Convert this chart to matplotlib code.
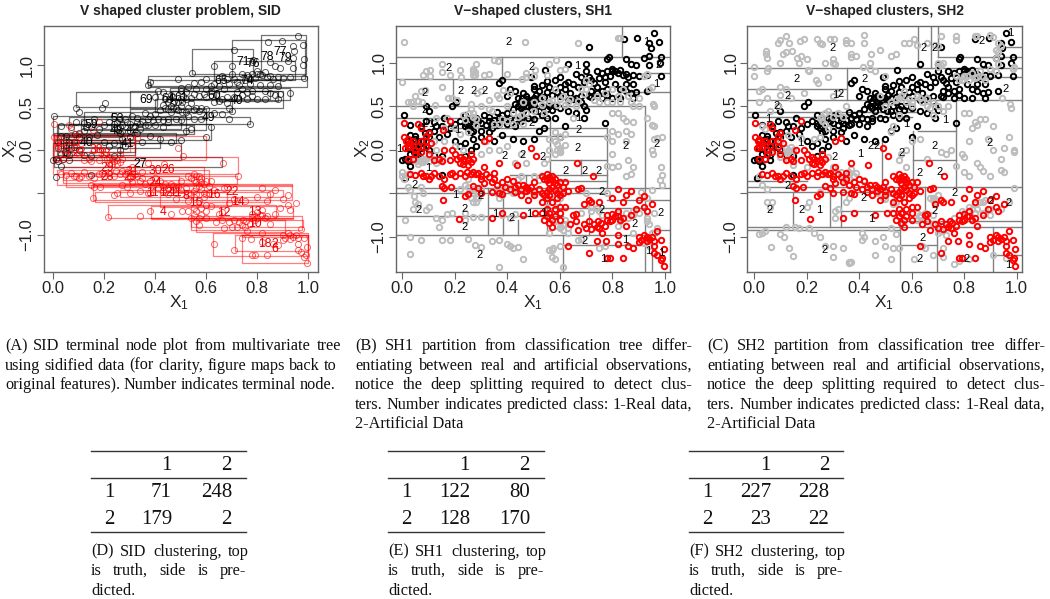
import matplotlib
matplotlib.use("Agg")
import matplotlib.pyplot as plt
from matplotlib.transforms import IdentityTransform

W, H = 1050, 599
plt.rcParams['font.family'] = 'Liberation Sans'
plt.rcParams['mathtext.default'] = 'regular'

black_pts = [(.96,1.34),(.895,1.28),(.843,1.27),(.978,1.24),(.94,1.22),(.945,1.17),(.71,1.18),(.985,1.07),(.94,1.08),(.98,1.0),(.94,.97),(.785,1.06),(.78,1.04),(.63,.99),(.70,.99),(.545,.91),(.70,.90),(.85,1.04),(.87,.99),(.89,.97),(.92,1.05),(.985,.85),(.93,.86),(.90,.85),(.85,.87),(.83,.92),(.80,.93),(.81,.90),(.78,.90),(.76,.88),(.74,.90),(.79,.85),(.77,.84),(.72,.80),(.68,.84),(.66,.87),(.63,.78),(.60,.83),(.58,.80),(.55,.79),(.49,.84),(.38,.80),(.37,.77),(.50,.73),(.50,.70),(.52,.68),(.55,.66),(.57,.63),(.60,.62),(.62,.70),(.64,.65),(.66,.60),(.68,.55),(.70,.46),(.69,.50),(.72,.61),(.74,.65),(.76,.60),(.78,.63),(.80,.60),(.83,.60),(.88,.60),(.87,.65),(.93,.67),(.89,.66),(.85,.67),
(.40,.62),(.44,.60),(.45,.56),(.47,.55),(.48,.50),(.50,.52),(.52,.45),(.46,.45),(.44,.50),(.42,.47),(.40,.42),(.38,.40),(.36,.43),(.33,.38),(.31,.40),(.30,.31),(.28,.37),(.26,.36),(.24,.40),(.22,.33),(.20,.30),(.19,.50),(.205,.55),(.09,.50),(.10,.45),(.09,.33),(.12,.32),(.15,.27),(.16,.37),(.005,.40),(.03,.28),(.07,.27),(.085,.19),(.10,.20),(.05,.16),(.06,.10),(.08,.03),(.02,.10),(.05,.06),(.05,.02),(.055,-.04),(.06,-.06),(.01,-.10),(.00,-.12),(.02,-.13),(.03,-.19),(.01,-.32),(.045,-.02),(.15,-.29),(.15,-.07),
(.77,.31),(.69,.37),(.62,.27),(.60,.15),(.54,.25),(.52,.22),(.50,.12),(.46,.10),(.42,.13),(.38,.17),(.35,.10),(.33,.20),(.30,.15),(.27,.13),(.25,.25),(.24,.27),(.30,.22),(.34,.25),(.37,.30),(.40,.30),(.43,.27),(.45,.33),(.48,.37),(.50,.35),(.53,.40),(.55,.37),(.58,.36),(.66,.42),(.63,.44),(.60,.48),(.56,.50),(.54,.55),(.50,.60),(.46,.65),(.43,.68),(.41,.70),
(.455,.60),(.47,.62),(.475,.58),(.49,.57),(.505,.57),(.46,.52),(.47,.5),(.49,.47),(.505,.45),(.43,.53),(.45,.48),(.53,.5),(.55,.47),(.57,.46),(.58,.5),(.52,.6),(.54,.61),(.51,.63),
(.33,.33),(.35,.34),(.37,.36),(.39,.35),(.41,.37),(.43,.35),(.45,.37),(.36,.29),(.34,.31),(.29,.33),(.27,.3),(.26,.27),(.25,.33),(.24,.31),(.26,.2),(.27,.22),(.32,.28),
(.8,.9),(.82,.88),(.84,.86),(.86,.83),(.88,.86),(.77,.78),(.75,.82),(.73,.77),(.71,.84),(.69,.78),(.67,.72),(.65,.75),(.62,.75),(.6,.72),(.59,.66),(.56,.72),(.53,.74),(.83,.7),(.85,.76),(.88,.75),(.81,.76),(.78,.7),(.76,.68),(.74,.72),(.72,.68),(.71,.62),(.68,.62),(.65,.58),(.63,.57),
(.02,.02),(.03,-.05),(.04,-.1),(.06,-.12),(.07,.02),(.05,.12),(.03,.17),(.08,.1),(.1,.15),(.1,.0),(.12,.22),(.13,.27),(.14,.15),(.17,.18),(.2,.1),(.22,.05),(.24,.08),(.24,-.07),(.26,.0),(.28,.05),(.12,-.06),(.18,.25)]
black_x = [p[0] for p in black_pts]
black_y = [p[1] for p in black_pts]

red_pts = [(.005,.31),(.06,.30),(.07,.25),(.18,.33),(.155,.23),(.10,.19),(.09,.16),(.005,.15),(.015,.10),(.02,.05),(.01,.02),(.03,.03),(.06,.05),(.07,-.03),(.09,.03),(.11,.08),(.16,.0),(.19,.0),(.18,-.12),(.22,-.08),(.23,-.10),(.24,-.13),(.25,-.12),(.26,-.14),(.26,-.05),(.05,-.29),(.03,-.28),(.09,-.30),(.10,-.33),(.12,-.26),(.14,-.30),(.18,-.28),(.20,-.30),(.22,-.27),(.245,-.25),(.26,-.28),(.28,-.28),(.31,-.20),(.33,-.31),(.35,-.26),(.37,-.15),(.30,-.33),(.31,-.38),(.27,-.41),(.29,-.44),(.35,-.33),(.38,-.37),(.40,-.33),(.42,-.36),(.44,-.40),(.46,-.40),(.47,-.47),(.50,-.37),(.52,-.45),(.53,-.30),(.55,-.28),(.56,-.31),(.57,-.34),(.58,-.38),(.59,-.40),(.60,-.37),(.61,-.42),(.62,-.37),(.49,.02),(.51,-.07),(.435,-.17),(.33,.14),(.31,.10),(.665,-.15),(.725,-.30),(.15,-.41),(.16,-.44),(.155,-.57),(.185,-.43),(.24,-.53),(.25,-.51),(.30,-.50),(.34,-.48),(.37,-.50),(.38,-.51),(.43,-.48),(.45,-.52),(.48,-.58),(.50,-.52),(.53,-.60),(.55,-.55),(.56,-.52),(.57,-.60),(.59,-.55),(.61,-.50),(.63,-.47),(.67,-.45),(.68,-.44),(.69,-.62),(.72,-.60),(.75,-.60),(.71,-.58),(.60,-.72),(.54,-.80),(.55,-.76),(.56,-.84),(.57,-.88),(.58,-.76),(.53,-.72),(.62,-.66),(.65,-.75),(.66,-.82),(.67,-.92),(.70,-.90),(.72,-.91),(.74,-.88),(.745,-.82),(.755,-.84),(.78,-.80),(.80,-.73),(.82,-.76),(.83,-.80),(.85,-.87),(.80,-.55),(.76,-.95),(.74,-1.04),(.775,-1.05),(.82,-1.08),(.82,-.98),(.86,-1.10),(.88,-1.12),(.91,-1.03),(.92,-.98),(.94,-1.02),(.95,-1.0),(.96,-1.04),(.985,-1.03),(.995,-1.14),(.96,-1.18),(.97,-1.20),(.985,-1.26),(.99,-1.24),(.995,-1.33),(.78,-1.24),(.79,-1.24),(.84,-1.24),(.71,-1.18),(.63,-1.10),(.505,-.72),(.46,-.75),(.38,-.72),(.34,-.78),(.215,-.79),(.89,-.68),(.93,-.70),(.92,-.53),(.97,-.93),(.87,-.47),(.82,-.45),(.84,-.60),
(.02,.13),(.03,.08),(.04,.1),(.05,.0),(.07,.1),(.09,.1),(.05,-.05),(.04,-.1),(.02,-.1),(.1,-.05),(.12,-.12),(.14,-.1),(.15,-.13),(.2,-.05),(.21,-.1),(.23,-.16),(.25,-.17),(.27,-.1),(.22,-.15),(.08,-.3),(.07,-.27),(.11,-.3),(.16,-.33),(.19,-.27),(.24,-.3),(.27,-.25),(.29,-.26),(.3,-.3),(.32,-.28),(.34,-.37),(.36,-.4),(.39,-.42),(.41,-.45),(.43,-.43),(.45,-.45),(.47,-.42),(.48,-.45),(.49,-.43),(.5,-.47),(.53,-.5),(.54,-.52),(.55,-.48),(.56,-.45),(.57,-.42),(.58,-.46),(.59,-.5),(.6,-.52),(.57,-.3),(.55,-.35),(.56,-.38),(.58,-.33),(.54,-.33),(.55,-.68),(.56,-.72),(.57,-.8),(.6,-.8),(.64,-.85),(.66,-.73),(.69,-.85),(.71,-.82),(.73,-.85),(.77,-.87),(.79,-.82),(.8,-.8),(.81,-.76),(.82,-.7),(.84,-.78),(.87,-.75),(.75,-.9),(.78,-.75),(.6,-.65),(.58,-.68),(.85,-.52),(.9,-.58),(.92,-.65),(.95,-.62),(.9,-1.06),(.93,-1.05),(.96,-1.1),(.93,-1.0),(.9,-1.0)]
red_x = [p[0] for p in red_pts]
red_y = [p[1] for p in red_pts]

gray1_pts = [(.008,1.24),(.467,1.24),(.667,1.23),(.82,1.28),(.83,1.28),(0,.78),(.105,.91),(.09,.90),(.08,.86),(.105,.85),(.15,.89),(.18,.86),(.15,.985),(.22,.91),(.225,.84),(.27,.90),(.275,.86),(.28,.99),(.31,.86),(.33,.87),(.35,1.03),(.365,1.02),(.40,.87),(.47,.84),(.455,.81),(.50,.85),(.56,.99),(.585,1.03),(.505,.92),(.47,.88),(.07,.68),(.085,.69),(.05,.62),(.02,.55),(.035,.55),(.06,.56),(.075,.55),(.04,.5),(.125,.515),(.15,.72),(.175,.60),(.19,.60),(.21,.57),(.23,.40),(.24,.34),(.26,.53),(.283,.65),(.30,.67),(.33,.57),(.36,.63),(.385,.69),(.37,.59),(.41,.65),(.40,.50),(.42,.42),
(.95,.72),(.955,.53),(.96,.50),(.94,.70),(.93,.36),(.95,.28),(.96,.27),(.96,.13),(.99,.15),(.97,.14),(.955,-.05),(.95,.0),(.88,.32),(.85,.33),(.84,.36),(.82,.42),(.80,.42),(.85,.22),(.87,.18),(.80,.22),(.82,.18),(.78,.15),(.80,.1),(.85,.1),(.80,-.05),(.86,-.12),(.88,-.2),(.85,-.3),(.87,-.28),(.80,-.2),(.82,-.19),(.78,-.19),(.985,-.2),(.99,-.29),(.98,-.35),(.99,-.4),(.95,-.46),(.91,-.48),(.93,-.55),(.96,-.72),(.93,-.82),(.97,-.9),(.88,-.75),(.85,-.72),(.83,-.82),(.82,-.87),(.88,-.95),
(.60,.15),(.62,.18),(.58,.2),(.59,.07),(.62,.06),(.60,0),(.56,.0),(.60,-.03),(.55,-.1),(.54,-.15),(.47,-.15),(.43,-.15),(.45,-.05),(.37,.0),(.40,.05),(.33,.0),(.30,-.05),(.27,-.28),(.25,-.33),(.28,-.55),(.27,-.6),(.26,-.55),(.24,-.4),(.22,-.45),(.36,-.45),(.37,-.55),(.38,-.52),(.42,-.5),(.50,-.5),(.55,-.6),(.58,-.55),(.59,-.48),(.60,-.45),(.58,-.8),(.60,-.88),(.62,-.85),(.61,-.92),(.63,-.95),(.56,-.95),(.68,-.72),(.72,-.7),(.72,-.6),(.75,-.7),(.76,-.75),(.78,-.5),(.70,-.5),(.67,-1.03),(.68,-1.02),(.77,-1.1),(.75,-1.12),
(.03,-1.0),(.07,-1.03),(.03,-1.19),(.15,-1.03),(.18,-1.03),(.25,-1.02),(.275,-1.09),(.3,-1.11),(.34,-1.04),(.37,-1.03),(.40,-1.08),(.41,-1.10),(.42,-1.13),(.44,-1.11),(.46,-1.25),(.37,-1.34),(.56,-1.15),(.575,-1.13),(.57,-1.15),(.61,-1.34),(.57,-1.23),(.58,-1.25),(.60,-1.1),
(.0,-.3),(.005,-.33),(.02,-.42),(.03,-.46),(.045,-.53),(.05,-.6),(.06,-.62),(.04,-.68),(.01,-.80),(.10,-.66),(.09,-.69),(.07,-.42),(.08,-.5),(.13,-.78),(.14,-.88),(.15,-.8),(.17,-.73),(.19,-.72),(.24,-.8),(.24,-.72),(.27,-.77),(.30,-.77),(.38,-.75),(.43,-.73),(.41,-.78),
(.05,-.12),(.06,-.13),(.07,-.12),(.08,-.14),(.09,-.11),(.10,-.06),(.12,-.1),(.15,-.1),(.02,-.28),(.0,-.25),(.12,.1),(.13,.0),(.16,.25),(.17,.37),(.13,.37),(.16,.10),(.2,.25),(.23,.0),(.25,.2),(.27,.42),(.28,.35),(.32,.1),(.35,.3),(.38,.35),(.42,.3),(.45,.4),(.46,.55),(.50,.45),(.54,.42),(.57,.57),(.59,.52),(.61,.62),(.62,.52),(.65,.36),(.66,.5),(.68,.7),(.69,.64),(.70,.8),(.73,.57),(.75,.55),(.78,.55),(.80,.7),(.82,.62),(.86,.62),(.87,.55),(.92,.85),(.93,.87),(.90,.60),(.60,.91),(.62,.93),(.55,.86),(.58,.70),
(.27,.86),(.27,.93),(.275,.89),(.34,.45),(.26,.47),(.255,.42),(.27,.38),(.3,.5),(.33,.47),(.28,.28),(.22,.18),(.2,.05),(.13,-.12),(.1,-.13),(.07,-.14),(.06,-.16),(.13,-.15),(.08,-.1),(.6,-.03),(.6,.02),(.59,.0),(.58,-.05),(.56,.12),(.58,.1),(.56,.55),(.53,.52),(.5,.55),(.47,.42),(.53,.6),(.6,.58),(.63,.55),(.64,.58),(.67,.56),(.71,.75),(.7,.7),(.74,.62),(.77,.65),(.8,.55),(.84,.7),(.83,.55),(.88,.5),(.9,.5),(.25,-.42),(.27,-.45),(.27,-.5),(.28,-.47),(.29,-.55),(.28,-.6),(.3,-.45),(.36,-.5),(.37,-.45),(.4,-.42),(.42,-.42),(.46,-.47),(.44,-.33),(.45,-.3),(.5,-.3),(.52,-.35),(.59,-.6),(.6,-.55),(.6,-.48),(.56,-.72),(.62,-.8),(.61,-.85),(.6,-.9),(.59,-.87),(.63,-.9),(.72,-.65),(.74,-.67),(.82,-.72),(.83,-.78),(.86,-.78),(.88,-.7),(.9,-.72),(.93,-.78),(.94,-.85),(.95,-.95),(.92,-1.07),(.94,-1.1),(.37,.3),(.4,.33),(.44,.38),(.46,.3)]
gray1_x = [p[0] for p in gray1_pts]
gray1_y = [p[1] for p in gray1_pts]

gray2_pts = [(.09,1.22),(.10,1.26),(.12,1.3),(.135,1.22),(.175,1.25),(.19,1.27),(.24,1.27),(.25,1.23),(.26,1.21),(.29,1.27),(.305,1.27),(.35,1.26),(.35,1.22),(.42,1.32),(.42,1.22),(.37,1.22),(.61,1.27),(.59,1.22),(.57,1.23),(.62,1.2),(.66,1.22),(.69,1.2),(.70,1.19),(.71,1.3),(.77,1.26),(.77,1.3),(.84,1.31),(.85,1.3),(.90,1.32),(.91,1.29),(.93,1.22),(.94,1.19),(.045,1.13),(.045,1.1),(.05,1.05),(.12,1.12),(.11,1.1),(.145,1.13),(.165,1.05),(.18,1.08),(.17,1.0),(.20,1.04),(.10,1.0),(.0,.95),(.0,.85),(.05,.9),(.055,.94),(.205,.92),(.21,.9),(.27,1.0),(.30,1.04),(.3,1.0),(.31,.98),(.37,1.1),(.37,1.07),(.39,1.08),(.445,1.1),(.48,1.15),(.52,1.08),(.54,1.1),(.44,1.0),(.44,.93),(.415,.95),(.245,.77),(.235,.8),(.28,.83),(.03,.7),(.02,.67),(.10,.72),(.12,.70),(.10,.63),(.14,.6),(.19,.65),(.05,.6),(.02,.55),(.06,.44),(.09,.5),
(.945,.6),(.975,.53),(.98,.48),(.985,.93),(.99,.95),(.88,.35),(.86,.35),(.84,.32),(.85,.28),(.83,.25),(.82,.1),(.80,.42),(.82,.42),(.91,.27),(.89,.12),(.91,.0),(.95,.02),(.97,.15),(.99,.0),(.99,-.03),(.94,-.1),(.85,-.15),(.86,-.2),(.87,-.24),(.9,-.3),(.94,-.23),(.95,-.25),(.99,-.44),(.97,-.6),(.80,-.08),(.79,-.05),(.75,.0),(.77,-.18),(.82,-.3),(.80,-.25),(.73,-.05),(.71,-.03),(.66,-.1),(.63,.12),(.60,.1),(.58,.0),(.56,-.05),(.55,-.12),(.58,-.2),
(.02,-.3),(.03,-.4),(.05,-.45),(.07,-.6),(.05,-.6),(.06,-.65),(.03,-.95),(.02,-.97),(.04,-.93),(.10,-.97),(.115,-1.0),(.12,-.88),(.155,-.88),(.17,-.9),(.21,-.9),(.23,-.95),(.25,-1.0),(.27,-1.1),(.30,-1.1),(.34,-1.12),(.37,-1.28),(.36,-1.29),(.30,-1.23),(.135,-1.13),(.15,-1.22),(.065,-1.11),(.2,-.65),(.21,-.6),(.25,-.48),(.31,-.7),(.32,-.68),(.31,-.78),(.41,-.95),(.41,-1.03),(.42,-1.0),(.46,-1.05),(.46,-1.2),(.52,-1.25),(.50,-1.1),(.49,-1.0),(.52,-.9),(.54,-.97),(.53,-1.13),(.55,-1.13),(.61,-1.25),(.64,-1.1),(.65,-1.13),(.68,-1.2),(.72,-1.13),(.72,-1.23),(.76,-1.31),(.78,-1.27),(.82,-1.25),(.91,-1.2),(.96,-1.24),(.73,-.98),(.70,-.95),(.72,-.92),(.68,-.85),(.62,-.8),(.63,-.75),(.65,-.8),(.78,-.75),(.80,-.72),(.84,-.72),(.85,-.68),(.87,-.6),(.90,-.75),(.94,-.68),(.68,-.55),(.68,-.58),(.70,-.52),(.35,-.6),(.36,-.55),
(.13,.0),(.12,-.03),(.14,.03),(.10,.1),(.13,.17),(.03,.27),(.04,.24),(.15,-.17),(.18,.14),(.28,-.08),(.3,-.2),(.33,-.25),(.36,-.25),(.38,-.3),(.44,-.4),(.47,-.5),(.49,-.55),(.50,-.56),(.52,-.5),(.27,.42),(.28,.45),(.3,.62),(.32,.65),(.35,.5),(.25,.37),(.26,.38),(.52,.2),(.53,.27),(.57,.68),(.55,.6),(.58,.55),(.6,.5),(.63,.6),(.66,.5),(.67,.48),(.68,.4),(.72,.45),(.74,.5),(.78,.8),(.8,.85),(.82,.8),(.84,.82),(.86,.9),(.88,.8),(.92,.9),(.93,.98),(.7,.95),(.72,1.0),(.55,.4),(.48,.62),
(.26,.33),(.27,.3),(.3,.38),(.32,.42),(.34,.38),(.28,.25),(.25,.15),(.23,.12),(.14,-.05),(.13,-.03),(.15,.0),(.12,.02),(.05,.0),(.06,-.03),(.1,-.08),(.09,.05),(.13,-.1),(.2,-.2),(.27,-.28),(.3,-.26),(.35,-.3),(.37,-.22),(.39,-.27),(.34,-.35),(.36,-.33),(.42,-.35),(.45,-.45),(.46,-.45),(.48,-.45),(.5,-.5),(.54,-.6),(.53,-.62),(.58,-.5),(.6,-.45),(.67,-.55),(.69,-.56),(.69,-.6),(.62,-.72),(.63,-.77),(.65,-.72),(.68,-.75),(.7,-.85),(.71,-.93),(.74,-.87),(.76,-.78),(.79,-.7),(.82,-.65),(.84,-.62),(.86,-.6),(.88,-.58),(.83,-.68),(.87,-.72),(.9,-.68),(.5,.5),(.52,.55),(.54,.57),(.56,.62),(.59,.58),(.6,.55),(.62,.62),(.64,.55),(.66,.6),(.68,.55),(.7,.5),(.77,.85),(.79,.8),(.81,.85),(.83,.88),(.85,.83),(.87,.84),(.9,.93),(.92,1.05),(.93,1.12),(.92,1.15),(.7,1.0),(.71,.97),(.46,.9),(.5,.85),(.36,-1.3),(.365,-1.28)]
gray2_x = [p[0] for p in gray2_pts]
gray2_y = [p[1] for p in gray2_pts]

# terminal node boxes: x0, x1, y0, y1
black_boxes = [(.815,.99,.90,1.35),(.70,.987,.84,1.29),(.545,.785,.90,1.19),(.63,.948,.82,1.05),(.373,.993,.74,.87),(.38,.89,.75,.82),(.09,.405,.51,.68),(.30,.90,.50,.70),(.457,.93,.59,.73),(.64,.88,.58,.69),(.12,.60,.24,.45),(.06,.77,.31,.39),(.0,.52,.18,.40),(.015,.62,.12,.31),(.005,.48,.08,.2),(.015,.32,-.06,.18),(.04,.26,-.08,.12),(.0,.50,-.12,.08),(.005,.66,-.2,-.08),
(.03,.42,.02,.17),(.05,.27,.04,.15),(.05,.32,-.02,.1),(.02,.55,.19,.3),(.11,.5,.25,.36),(.3,.6,.36,.48),(.4,.7,.45,.6),(.46,.85,.6,.7)]
red_boxes = [(.0,.60,-.12,.16),(.005,.32,-.08,.18),(.0,.725,-.08,-.28),(.04,.59,-.2,-.39),(.013,.61,-.24,-.41),(.05,.495,-.31,-.43),(.157,.935,-.41,-.59),(.163,.85,-.49,-.61),(.26,.90,-.47,-.55),(.42,.68,-.49,-.67),(.215,.875,-.65,-.80),(.385,.94,-.66,-.80),(.54,.975,-.78,-.94),(.56,.91,-.82,-.96),(.627,1.0,-.98,-1.25),(.712,1.0,-1.0,-1.19),(.74,1.0,-1.0,-1.33),(.74,1.0,-1.0,-1.02),
(.157,.935,-.405,-.42),(.385,.94,-.8,-.81),(.02,.3,-.02,.12),(.04,.55,-.27,-.35),(.3,.72,-.3,-.4),(.54,.98,-.82,-.9)]

black_node_labels = [("71",.745,1.04),("76",.782,1.01),("78",.84,1.09),("77",.89,1.15),("79",.91,1.08),("69",.365,.59),("59",.15,.29),("74",.76,.81),("65",.66,.81),("61",.50,.61),("60",.63,.63),("40",.72,.58),("49",.61,.38),("42",.31,.24),("48",.25,.22),("40",.13,.08),("41",.29,.07),("27",.34,-.17),("53",.25,.36),("64",.45,.6)]
red_node_labels = [("4",.43,-.73),("12",.67,-.74),("13",.79,-.73),("10",.79,-.87),("18",.83,-1.11),("6",.87,-1.16),("2",.87,-1.1),("22",.70,-.49),("14",.725,-.61),("16",.63,-.53),("30",.40,-.25),("26",.45,-.24),("24",.40,-.39),("11",.39,-.51),("12",.44,-.51),("11",.48,-.51),("8",.52,-.54),("15",.56,-.62),("28",.21,-.32),("29",.21,-.21),("31",.31,-.26),("25",.30,-.32),("23",.10,-.03),("38",.17,.0),("33",.2,-.05)]

sh1_labels = [("2",.404,1.24),("2",.175,.935),("2",.223,.67),("2",.273,.67),("2",.312,.67),("2",.086,.65),("2",.086,.46),("2",.086,.3),("2",.492,.955),("1",.664,.96),("2",.975,.97),("1",.93,1.24),("1",.968,.76),("2",.848,.05),("2",.968,.065),("2",.667,.02),("2",.62,-.24),("2",.695,-.24),("2",.746,-.24),("2",.534,-.08),("2",.39,-.07),("2",.458,-.06),("2",.492,.31),("2",.67,.23),("1",.67,.36),("2",.293,-1.2),("2",.238,-.88),("2",.238,-.68),("2",.061,-.69),("1",.353,-.74),("2",.416,-.78),("1",.483,-.74),("1",.537,-.72),("2",.695,-1.04),("1",.848,-1.03),("1",.765,-1.25),("1",.937,-1.16),("1",.987,-1.18),("2",.886,-.85),("2",.983,-.72),("2",.759,-.69),("2",.759,-.48),("1",.2,-.52),("2",.298,-.53),("2",.048,-.4),("1",-.01,.01),("1",.1,-.21),("1",.11,.3),("1",.21,.23)]
sh2_labels = [("2",.30,1.17),("2",.162,.81),("2",.127,.62),("2",.33,.64),("1",.31,.63),("2",.42,.81),("2",.086,.5),("2",.06,-.69),("2",.18,-.69),("1",.25,-.69),("1",.448,-.79),("2",.267,-1.15),("2",.642,-1.01),("2",.632,-1.25),("2",.689,-.7),("2",.765,-.5),("2",.632,-.26),("2",.708,-.25),("2",.689,.05),("2",.896,.08),("2",.956,.7),("1",.975,1.34),("2",.867,1.25),("2",.647,1.17),("2",.689,1.17),("1",.581,.3),("1",.727,.34),("1",.404,-.05),("2",.442,.04),("2",.467,.04),("2",.562,-.04),("2",.81,-1.25),("1",.968,-1.32),("2",.127,-.41),("2",.306,-.08),("1",.175,.08),("1",.055,.35),("2",.416,-.55),("2",.97,-.61),("2",.9,-.59)]

# partition segments: horizontal (y, x0, x1), vertical (x, y0, y1)
sh1_h = [(1.06,-.03,1.03),(.81,-.03,.46),(.88,.92,1.03),(.66,.82,1.03),(.5,-.03,.92),(.36,-.03,.56),(.25,.18,.78),(.16,.36,.78),(-.115,.56,.78),(-.29,.41,.78),(-.36,.56,.78),(-.44,-.03,1.03),(-.5,-.03,.78),(-.57,.78,1.03),(-.67,.33,.92),(-.76,-.03,.61),(-.92,.97,1.03),(-.98,-.03,.97),(-1.09,.61,.92)]
sh1_v = [(.835,1.06,1.42),(.378,.81,1.06),(.194,.5,.81),(.778,-.44,.25),(.924,-1.4,.5),(.952,-1.4,-.92),(.613,-1.4,-.98),(.562,-.29,.36),(.327,-.98,-.44),(.385,-.98,-.44),(.44,-.98,-.8),(.55,-.98,-.5),(.71,-.98,-.67),(.68,-.29,-.115),(.47,-.44,-.29)]
sh2_h = [(.935,-.03,1.03),(.695,-.03,.353),(.57,-.03,1.03),(.43,-.03,.62),(.38,-.03,.6),(.83,.78,1.03),(1.18,.95,1.03),(1.07,.7,1.03),(.22,.626,.77),(-.12,.607,.77),(-.42,-.03,1.03),(-.48,-.03,.607),(-.36,-.03,.2),(-.7,.33,.55),(-.82,.556,1.03),(-.88,-.03,1.03),(-.92,-.03,.556),(-1.09,.556,.695),(-1.2,.91,1.03)]
sh2_v = [(.626,.935,1.42),(.674,.935,1.42),(.70,1.07,1.42),(.353,.57,.935),(.556,-1.4,-.82),(.91,-1.4,-.88),(.695,-1.4,-.88),(.77,-.42,.57),(.607,-.42,.22),(.486,-.42,.12),(.15,-.88,-.48),(.29,-.88,-.48),(.33,-.88,-.48),(.65,-.82,-.42)]

caption_a = ["(A) SID terminal node plot from multivariate tree",
             "using sidified data (for clarity, figure maps back to",
             "original features). Number indicates terminal node."]
caption_b = ["(B) SH1 partition from classification tree differ-",
             "entiating between real and artificial observations,",
             "notice the deep splitting required to detect clus-",
             "ters. Number indicates predicted class: 1-Real data,",
             "2-Artificial Data"]
caption_c = ["(C) SH2 partition from classification tree differ-",
             "entiating between real and artificial observations,",
             "notice the deep splitting required to detect clus-",
             "ters. Number indicates predicted class: 1-Real data,",
             "2-Artificial Data"]
table_d = [["1", "71", "248"], ["2", "179", "2"]]
table_e = [["1", "122", "80"], ["2", "128", "170"]]
table_f = [["1", "227", "228"], ["2", "23", "22"]]
table_head = ["1", "2"]
note_d = ["(D) SID clustering, top", "is truth, side is pre-", "dicted."]
note_e = ["(E) SH1 clustering, top", "is truth, side is pre-", "dicted."]
note_f = ["(F) SH2 clustering, top", "is truth, side is pre-", "dicted."]

fig = plt.figure(figsize=(10.5, 5.99), dpi=100)
renderer = fig.canvas.get_renderer()
FRAME = '#666666'
TICKTXT = '#222222'


def make_axes(box, xlim, ylim, title, xlabel_x):
    x0, x1, y0, y1 = box
    ax = fig.add_axes([x0 / W, 1 - y1 / H, (x1 - x0) / W, (y1 - y0) / H])
    ax.set_xlim(*xlim)
    ax.set_ylim(*ylim)
    ax.set_xticks([0, .2, .4, .6, .8, 1.0], ["0.0", "0.2", "0.4", "0.6", "0.8", "1.0"])
    ax.set_yticks([-1, -.5, 0, .5, 1], ["\u22121.0", "", "0.0", "0.5", "1.0"])
    ax.tick_params(axis='both', length=5, width=.8, color=FRAME, labelsize=12, labelcolor=TICKTXT)
    ax.tick_params(axis='x', pad=1.5)
    ax.tick_params(axis='y', pad=1.5)
    for t in ax.get_yticklabels():
        t.set_rotation(90)
        t.set_va('center')
    for s in ax.spines.values():
        s.set_color(FRAME)
        s.set_linewidth(1.0)
    fig.text((x0 + x1) / 2 / W, 1 - 11 / H, title, ha='center', va='center', fontsize=10,
             fontweight='bold', color='#222222')
    fig.text(xlabel_x / W, 1 - 303 / H, "X$_1$", ha='center', va='center', fontsize=12.5, color=TICKTXT)
    fig.text((x0 - 33) / W, 1 - 148 / H, "X$_2$", ha='center', va='center', rotation=90, fontsize=12.5, color=TICKTXT)
    return ax


# Panel A
ax = make_axes((43.5, 318, 26, 272), (-.038, 1.038), (-1.435, 1.459), "V shaped cluster problem, SID", 179)
for bx in black_boxes:
    ax.plot([bx[0], bx[1], bx[1], bx[0], bx[0]], [bx[2], bx[2], bx[3], bx[3], bx[2]], color='#000000', alpha=.55, lw=.9)
for bx in red_boxes:
    ax.plot([bx[0], bx[1], bx[1], bx[0], bx[0]], [bx[2], bx[2], bx[3], bx[3], bx[2]], color='#ff0000', alpha=.5, lw=.9)
ax.plot(black_x, black_y, 'o', mfc='none', mec='#000000', mew=.7, ms=4.4, alpha=.65)
ax.plot(red_x, red_y, 'o', mfc='none', mec='#ff0000', mew=.7, ms=4.4, alpha=.6)
for s, x, y in black_node_labels:
    ax.text(x, y, s, ha='center', va='center', fontsize=8.8, color='black')
for s, x, y in red_node_labels:
    ax.text(x, y, s, ha='center', va='center', fontsize=8.8, color='#ee0000')


def partition_panel(box, xlim, title, h, v, gx, gy, labels, xlabel_x):
    ax = make_axes(box, xlim, (-1.40, 1.42), title, xlabel_x)
    for y, a, b in h:
        ax.plot([a, b], [y, y], color='#808080', lw=1.0)
    for x, a, b in v:
        ax.plot([x, x], [a, b], color='#808080', lw=1.0)
    ax.plot(black_x, black_y, 'o', mfc='none', mec='#000000', mew=1.4, ms=3.9)
    ax.plot(gx, gy, 'o', mfc='none', mec='#bdbdbd', mew=1.4, ms=3.9)
    ax.plot(red_x, red_y, 'o', mfc='none', mec='#ff0000', mew=1.4, ms=3.9)
    for s, x, y in labels:
        ax.text(x, y, s, ha='center', va='center', fontsize=8, color='black')
    return ax


partition_panel((395.7, 670, 26, 272), (-.025, 1.019), "V\u2212shaped clusters, SH1", sh1_h, sh1_v, gray1_x, gray1_y, sh1_labels, 533)
partition_panel((747.3, 1022, 26, 272), (-.0255, 1.02), "V\u2212shaped clusters, SH2", sh2_h, sh2_v, gray2_x, gray2_y, sh2_labels, 884)

IDT = IdentityTransform()
SERIF = dict(family='Liberation Serif', fontsize=11.7, color='#111111', va='baseline')


def put(x, y, s, **kw):
    opts = dict(SERIF)
    opts.update(kw)
    return fig.text(x, H - y, s, transform=IDT, **opts)


def justified(line, x0, x1, y):
    words = line.split()
    widths = []
    for w in words:
        t = put(0, 0, w)
        widths.append(t.get_window_extent(renderer).width)
        t.remove()
    gap = (x1 - x0 - sum(widths)) / (len(words) - 1)
    x = x0
    for w, wd in zip(words, widths):
        put(x, y, w)
        x += wd + gap


def caption(lines, x0, rights, y0, step=19.6):
    for i, line in enumerate(lines):
        y = y0 + i * step
        if rights[i] is None:
            put(x0, y, line)
        else:
            justified(line, x0, rights[i], y)


caption(caption_a, 5, [341, 337, 336], 350)
caption(caption_b, 355, [692, 692, 692, 692, None], 350)
caption(caption_c, 707, [1045, 1045, 1045, 1045, None], 350)

TAB = dict(fontsize=15)


def table(rows, note, x0, x1, rowx, c1, c2):
    for y in (451, 478, 532):
        fig.add_artist(plt.Line2D([x0 / W, x1 / W], [1 - y / H, 1 - y / H], color='#333333', lw=1.0))
    put(c1, 470, table_head[0], ha='right', **TAB)
    put(c2, 470, table_head[1], ha='right', **TAB)
    for row, y in zip(rows, (497, 524)):
        put(rowx, y, row[0], ha='center', **TAB)
        put(c1, y, row[1], ha='right', **TAB)
        put(c2, y, row[2], ha='right', **TAB)
    caption(note, x0, [x1 + 3, x1, None], 555.5)


table(table_d, note_d, 91, 246, 109, 172, 232)
table(table_e, note_e, 388, 544, 406, 470, 530)
table(table_f, note_f, 689, 843, 707, 771, 829)

fig.savefig("out.png", dpi=100)
